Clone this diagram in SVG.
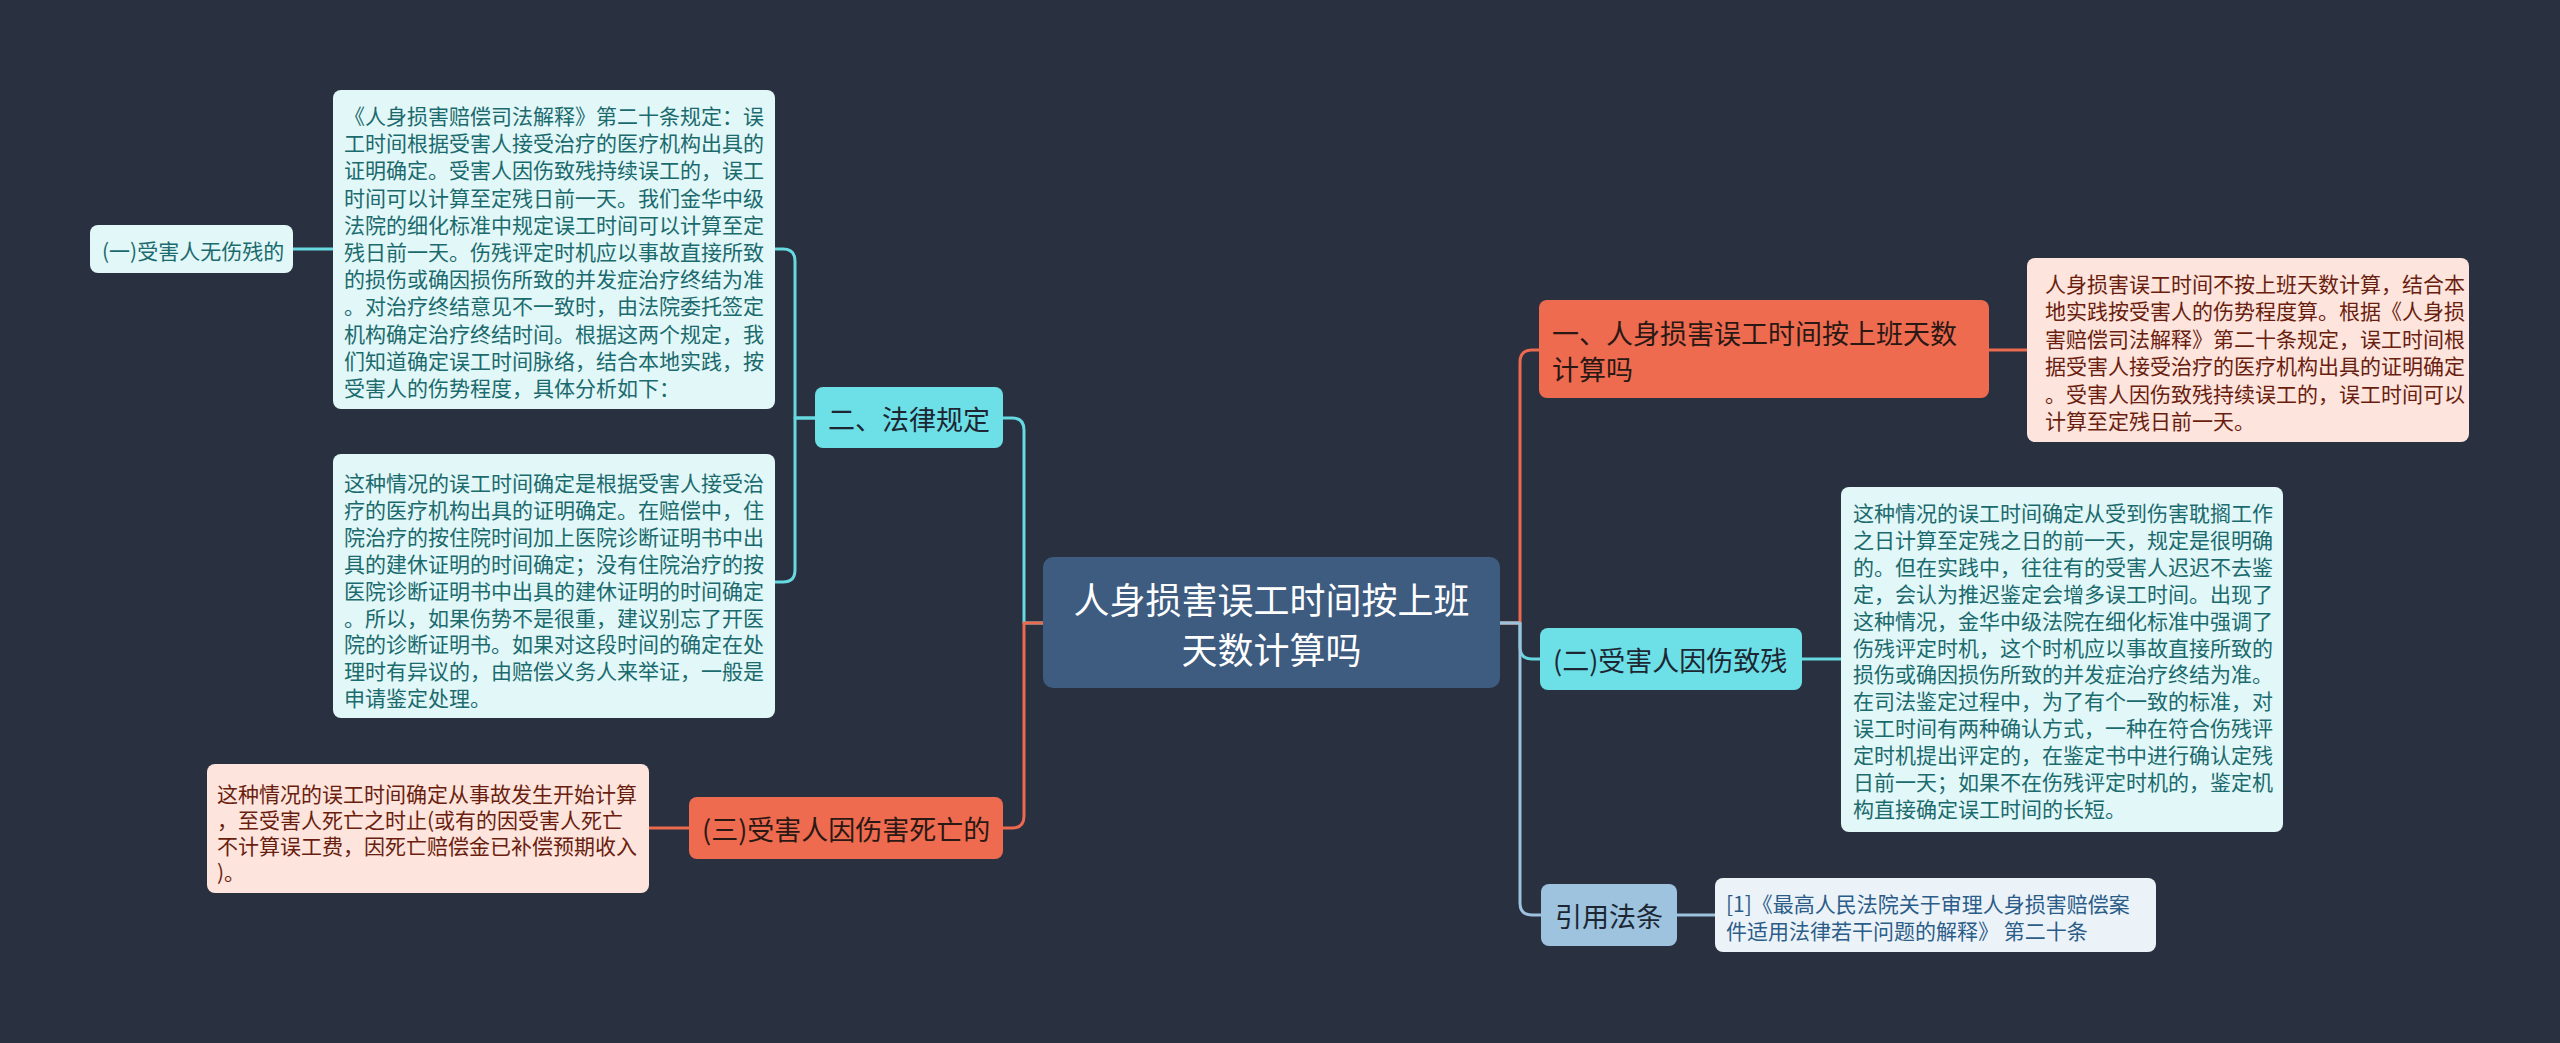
<svg xmlns="http://www.w3.org/2000/svg" width="2560" height="1043" viewBox="0 0 2560 1043">
<style>
text{font-family:"Noto Sans CJK SC","Noto Sans",sans-serif;dominant-baseline:central}
.c{fill:none;stroke-width:3;stroke-linecap:round;stroke-linejoin:round}
.cy{stroke:#66d9e1}.or{stroke:#ec6a4f}.bl{stroke:#9dc2de}
.root{fill:#3e5b80}
.ncy{fill:#6ddfe6}.nor{fill:#ee6b4f}.nbl{fill:#9dc3df}
.bcy{fill:#e1f7f8}.bpk{fill:#fde4dd}.bbl{fill:#ebf3f8}
.t27{font-size:27px;fill:#1c2733}
.t27o{font-size:27px;fill:#2a1814}
.tcy{font-size:21px;fill:#1b6a6d}
.tpk{font-size:21px;fill:#6a1e0f}
.tbl{font-size:21px;fill:#2c5c88}
</style>
<rect width="2560" height="1043" fill="#29303f"/>
<g id="connectors">
<path class="c cy" d="M1043,623 H1024 V430 Q1024,418 1012,418 H1003"/>
<path class="c or" d="M1043,623 H1024 V816 Q1024,828 1012,828 H1003"/>
<path class="c cy" d="M815,418 H795 V261 Q795,249 783,249 H775"/>
<path class="c cy" d="M815,418 H795 V570 Q795,582 783,582 H775"/>
<path class="c cy" d="M333,249 H293"/>
<path class="c or" d="M689,828 H649"/>
<path class="c cy" d="M1500,623 H1520 V647 Q1520,659 1532,659 H1540"/>
<path class="c or" d="M1500,623 H1520 V362 Q1520,350 1532,350 H1539"/>
<path class="c bl" d="M1500,623 H1520 V903 Q1520,915 1532,915 H1541"/>
<path class="c or" d="M1989,350 H2027"/>
<path class="c cy" d="M1802,659 H1841"/>
<path class="c bl" d="M1677,915 H1715"/>
</g>
<g id="root">
<rect class="root" x="1043" y="557" width="457" height="131" rx="10"/>
<text x="1271.5" y="598" font-size="36" fill="#ffffff" text-anchor="middle">人身损害误工时间按上班</text>
<text x="1271.5" y="648" font-size="36" fill="#ffffff" text-anchor="middle">天数计算吗</text>
</g>
<g id="n-fagui">
<rect class="ncy" x="815" y="387" width="188" height="61" rx="8"/>
<text class="t27" x="828" y="418">二、法律规定</text>
</g>
<g id="n-fagui-1">
<rect class="bcy" x="333" y="90" width="442" height="319" rx="8"/>
<text class="tcy">
<tspan x="344" y="115">《人身损害赔偿司法解释》第二十条规定：误</tspan>
<tspan x="344" y="142.2">工时间根据受害人接受治疗的医疗机构出具的</tspan>
<tspan x="344" y="169.4">证明确定。受害人因伤致残持续误工的，误工</tspan>
<tspan x="344" y="196.6">时间可以计算至定残日前一天。我们金华中级</tspan>
<tspan x="344" y="223.8">法院的细化标准中规定误工时间可以计算至定</tspan>
<tspan x="344" y="251">残日前一天。伤残评定时机应以事故直接所致</tspan>
<tspan x="344" y="278.2">的损伤或确因损伤所致的并发症治疗终结为准</tspan>
<tspan x="344" y="305.4">。对治疗终结意见不一致时，由法院委托签定</tspan>
<tspan x="344" y="332.6">机构确定治疗终结时间。根据这两个规定，我</tspan>
<tspan x="344" y="359.8">们知道确定误工时间脉络，结合本地实践，按</tspan>
<tspan x="344" y="387">受害人的伤势程度，具体分析如下：</tspan>
</text>
</g>
<g id="n-wushangcan">
<rect class="bcy" x="90" y="225" width="203" height="48" rx="8"/>
<text class="tcy" x="102" y="250">(一)受害人无伤残的</text>
</g>
<g id="n-fagui-2">
<rect class="bcy" x="333" y="454" width="442" height="264" rx="8"/>
<text class="tcy">
<tspan x="344" y="482">这种情况的误工时间确定是根据受害人接受治</tspan>
<tspan x="344" y="508.9">疗的医疗机构出具的证明确定。在赔偿中，住</tspan>
<tspan x="344" y="535.8">院治疗的按住院时间加上医院诊断证明书中出</tspan>
<tspan x="344" y="562.7">具的建休证明的时间确定；没有住院治疗的按</tspan>
<tspan x="344" y="589.6">医院诊断证明书中出具的建休证明的时间确定</tspan>
<tspan x="344" y="616.5">。所以，如果伤势不是很重，建议别忘了开医</tspan>
<tspan x="344" y="643.4">院的诊断证明书。如果对这段时间的确定在处</tspan>
<tspan x="344" y="670.3">理时有异议的，由赔偿义务人来举证，一般是</tspan>
<tspan x="344" y="697.2">申请鉴定处理。</tspan>
</text>
</g>
<g id="n-siwang">
<rect class="nor" x="689" y="797" width="314" height="62" rx="8"/>
<text class="t27o" x="702" y="828">(三)受害人因伤害死亡的</text>
</g>
<g id="n-siwang-1">
<rect class="bpk" x="207" y="764" width="442" height="129" rx="8"/>
<text class="tpk">
<tspan x="217" y="793">这种情况的误工时间确定从事故发生开始计算</tspan>
<tspan x="217" y="819">，至受害人死亡之时止(或有的因受害人死亡</tspan>
<tspan x="217" y="845">不计算误工费，因死亡赔偿金已补偿预期收入</tspan>
<tspan x="217" y="871">)。</tspan>
</text>
</g>
<g id="n-yi">
<rect class="nor" x="1539" y="300" width="450" height="98" rx="8"/>
<text class="t27o">
<tspan x="1552" y="332">一、人身损害误工时间按上班天数</tspan>
<tspan x="1552" y="368">计算吗</tspan>
</text>
</g>
<g id="n-yi-1">
<rect class="bpk" x="2027" y="258" width="442" height="184" rx="8"/>
<text class="tpk">
<tspan x="2045" y="283">人身损害误工时间不按上班天数计算，结合本</tspan>
<tspan x="2045" y="310.4">地实践按受害人的伤势程度算。根据《人身损</tspan>
<tspan x="2045" y="337.8">害赔偿司法解释》第二十条规定，误工时间根</tspan>
<tspan x="2045" y="365.2">据受害人接受治疗的医疗机构出具的证明确定</tspan>
<tspan x="2045" y="392.6">。受害人因伤致残持续误工的，误工时间可以</tspan>
<tspan x="2045" y="420">计算至定残日前一天。</tspan>
</text>
</g>
<g id="n-shangcan">
<rect class="ncy" x="1540" y="628" width="262" height="62" rx="8"/>
<text class="t27" x="1553" y="659">(二)受害人因伤致残</text>
</g>
<g id="n-shangcan-1">
<rect class="bcy" x="1841" y="487" width="442" height="345" rx="8"/>
<text class="tcy">
<tspan x="1853" y="512">这种情况的误工时间确定从受到伤害耽搁工作</tspan>
<tspan x="1853" y="538.9">之日计算至定残之日的前一天，规定是很明确</tspan>
<tspan x="1853" y="565.8">的。但在实践中，往往有的受害人迟迟不去鉴</tspan>
<tspan x="1853" y="592.7">定，会认为推迟鉴定会增多误工时间。出现了</tspan>
<tspan x="1853" y="619.6">这种情况，金华中级法院在细化标准中强调了</tspan>
<tspan x="1853" y="646.5">伤残评定时机，这个时机应以事故直接所致的</tspan>
<tspan x="1853" y="673.4">损伤或确因损伤所致的并发症治疗终结为准。</tspan>
<tspan x="1853" y="700.3">在司法鉴定过程中，为了有个一致的标准，对</tspan>
<tspan x="1853" y="727.2">误工时间有两种确认方式，一种在符合伤残评</tspan>
<tspan x="1853" y="754.1">定时机提出评定的，在鉴定书中进行确认定残</tspan>
<tspan x="1853" y="781">日前一天；如果不在伤残评定时机的，鉴定机</tspan>
<tspan x="1853" y="807.9">构直接确定误工时间的长短。</tspan>
</text>
</g>
<g id="n-yinyong">
<rect class="nbl" x="1541" y="884" width="136" height="62" rx="8"/>
<text class="t27" x="1555" y="915">引用法条</text>
</g>
<g id="n-yinyong-1">
<rect class="bbl" x="1715" y="878" width="441" height="74" rx="8"/>
<text class="tbl">
<tspan x="1726" y="903">[1]《最高人民法院关于审理人身损害赔偿案</tspan>
<tspan x="1726" y="930">件适用法律若干问题的解释》 第二十条</tspan>
</text>
</g>
</svg>
